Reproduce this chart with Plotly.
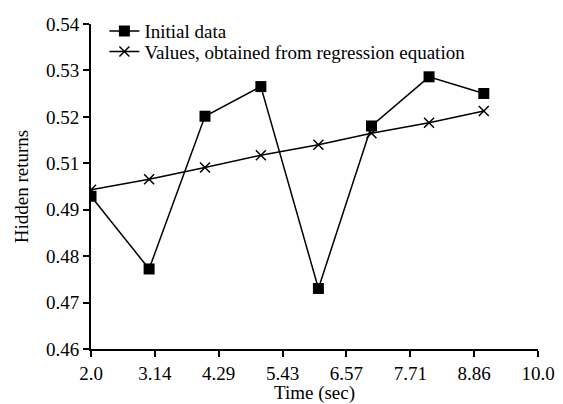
import numpy as np
import plotly.graph_objects as go

# time points (sec)
time_sec = [2.0, 3.04, 4.04, 5.04, 6.07, 7.02, 8.05, 9.03]

# hidden returns
initial_data = [0.4976, 0.4797, 0.5173, 0.5246, 0.4749, 0.5149, 0.5270, 0.5229]
regression_values = [0.4992, 0.5018, 0.5047, 0.5077, 0.5103, 0.5131, 0.5157, 0.5186]

# axes are split into 7 equal parts, labels rounded
x_ticks = list(np.linspace(2.0, 10.0, 8))
x_labels = ["2.0", "3.14", "4.29", "5.43", "6.57", "7.71", "8.86", "10.0"]
y_ticks = list(np.linspace(0.46, 0.54, 8))
y_labels = ["0.46", "0.47", "0.48", "0.49", "0.51", "0.52", "0.53", "0.54"]

FONT = "Liberation Serif, Times New Roman, serif"
FS = 19

fig = go.Figure()
fig.add_trace(go.Scatter(
    x=time_sec, y=initial_data,
    mode="lines+markers",
    name="Initial data",
    line=dict(color="black", width=1.5),
    marker=dict(symbol="square", size=11, color="black"),
    legend="legend",
))
fig.add_trace(go.Scatter(
    x=time_sec, y=regression_values,
    mode="lines+markers",
    name="Values, obtained from regression equation",
    line=dict(color="black", width=1.5),
    marker=dict(symbol="x-thin-open", size=10, color="black",
                line=dict(color="black", width=1.5)),
    legend="legend2",
))

axis_common = dict(
    showgrid=False, zeroline=False, automargin=False,
    showline=True, linecolor="black", linewidth=2,
    ticks="outside", ticklen=6, tickwidth=2, tickcolor="black",
    tickfont=dict(family=FONT, size=FS, color="black"),
)

fig.update_xaxes(
    range=[2.0, 10.0], tickvals=x_ticks, ticktext=x_labels,
    title=dict(text="Time (sec)", font=dict(family=FONT, size=FS, color="black"), standoff=0),
    **axis_common
)
fig.update_yaxes(
    range=[0.46, 0.54], tickvals=y_ticks, ticktext=y_labels,
    title=dict(text="Hidden returns", font=dict(family=FONT, size=FS, color="black"), standoff=12),
    **axis_common
)

leg = dict(xanchor="left", yanchor="middle", bgcolor="rgba(0,0,0,0)",
           font=dict(family=FONT, size=FS, color="black"))
fig.update_layout(
    width=563, height=404,
    margin=dict(l=91, r=25, t=14, b=55),
    plot_bgcolor="white", paper_bgcolor="white",
    font=dict(family=FONT, size=FS, color="black"),
    showlegend=True,
    legend=dict(x=0.03, y=0.978, **leg),
    legend2=dict(x=0.03, y=0.915, **leg),
)

# drop the default body margin so the figure sits at the window's corner
fig.write_html("out.html", config={"displayModeBar": False},
               post_script="document.body.style.margin='0';")
